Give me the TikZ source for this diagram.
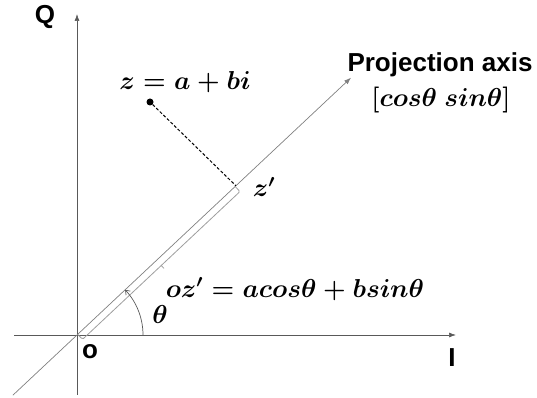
\documentclass[tikz,border=0pt]{standalone}
\usepackage{fontspec}
\setmainfont{Liberation Sans}
\usetikzlibrary{arrows.meta,calc}
\begin{document}
\begin{tikzpicture}[x=1pt,y=1pt,
  axisline/.style={draw=black!65,line width=0.7pt},
  projline/.style={draw=black!50,line width=0.7pt},
  bracketline/.style={draw=black!38,line width=0.8pt,rounded corners=1.5pt},
  tip/.style={-{Latex[length=7pt,width=5pt]}},
  lab/.style={font=\fontsize{26}{28}\selectfont\bfseries,inner sep=0pt},
  mlab/.style={font=\fontsize{20.74}{24}\selectfont\boldmath,inner sep=0pt,scale=1.25}]
\useasboundingbox (0,0) rectangle (537,398);
\coordinate (O) at (77,63);
\coordinate (qtop) at (77,384);
\coordinate (qbot) at (77,3);
\coordinate (ileft) at (14,63);
\coordinate (iright) at (456,63);
\coordinate (plo) at ($(O)+(223.2:88)$);
\coordinate (phi) at ($(O)+(43.2:376)$);
\coordinate (zp) at ($(O)+(43.2:218)$);
\coordinate (arcstart) at ($(O)+(66,0)$);
% axes
\draw[axisline,tip] (qbot) -- (qtop);
\draw[axisline,tip] (ileft) -- (iright);
\draw[projline,tip] (plo) -- (phi);
% bracket
\begin{scope}[shift={(O)},rotate=43.2]
\draw[bracketline] (1,0) -- (1,-7) -- (217,-7) -- (217,0);
\draw[bracketline] (109,-7) -- (109,-11);
\end{scope}
% angle arc
\draw[draw=black!65,line width=0.7pt,-{Straight Barb[length=4pt,width=6pt]}] (arcstart) arc (0:43.2:66);
% point z and projection
\node[circle,fill=black,inner sep=0pt,minimum size=7pt] (zdot) at (150,296) {};
\draw[black,line width=1pt,dash pattern=on 3pt off 2pt] (zdot) -- (zp);
% labels
\node[lab] (lQ) at (45,381) {Q};
\node[lab] (lO) at (90,46) {o};
\node[lab] (lI) at (452,40) {I};
\node[lab] (lproj) at (440,333) {Projection axis};
\node[mlab] (lvec) at (441,298) {$[cos\theta\ sin\theta]$};
\node[mlab] (lz) at (185,316) {$z = a + bi$};
\node[mlab] (lzp) at (264,211) {$z'$};
\node[mlab] (leq) at (295,109) {$oz' = acos\theta + bsin\theta$};
\node[mlab] (lth) at (160,83) {$\theta$};
\end{tikzpicture}
\end{document}
